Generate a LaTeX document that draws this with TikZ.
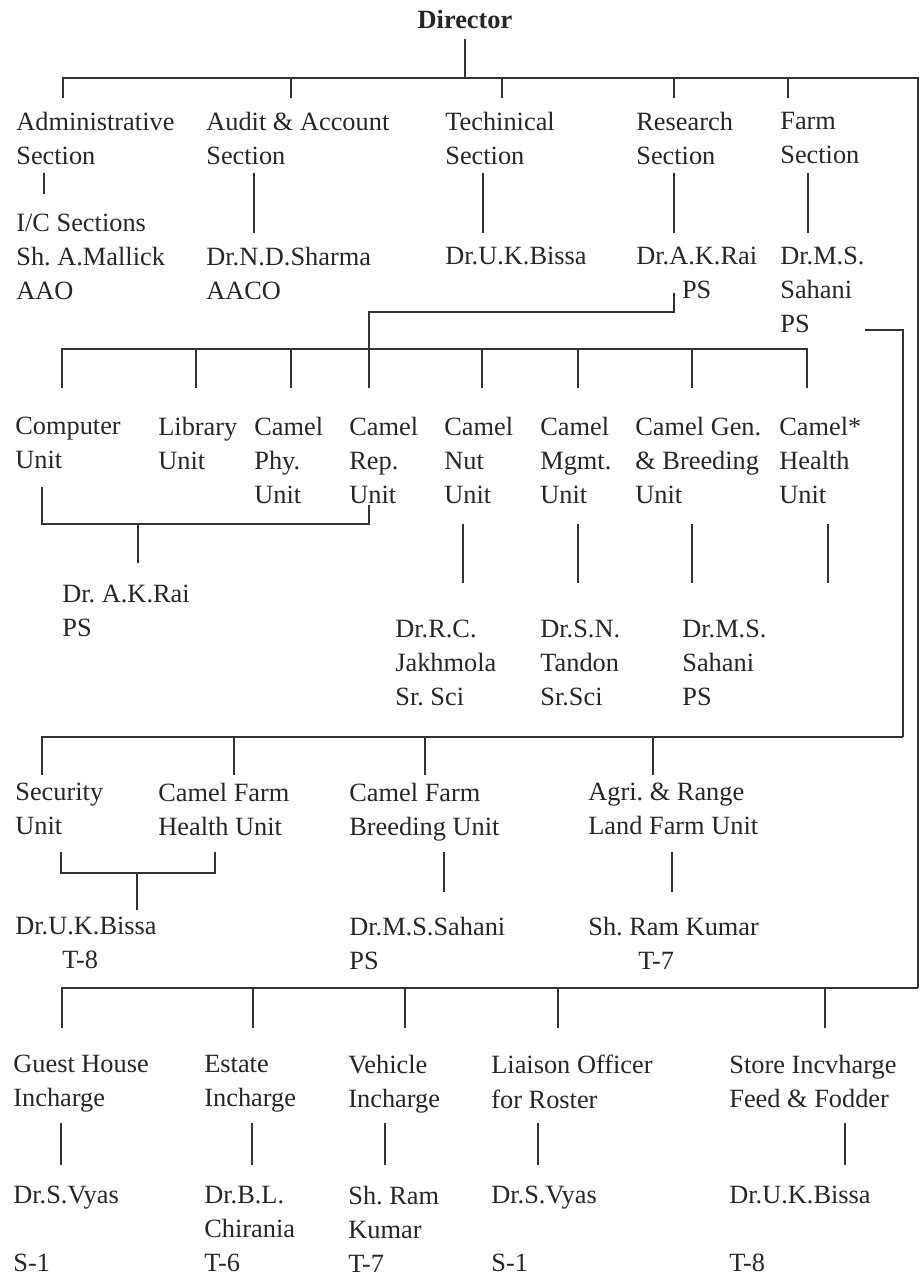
\documentclass[tikz,border=0pt]{standalone}
\usepackage{fontspec}
\setmainfont{Liberation Serif}
\frenchspacing
\usetikzlibrary{positioning, calc}
\tikzset{
	post/.style={anchor=north west, inner sep=0pt, align=left, text=black!85, font=\fontsize{15}{19.4}\selectfont},
	cpost/.style={post, align=center},
	head/.style={anchor=base, inner sep=0.2cm, text=black!85, font=\bfseries\fontsize{15}{19.4}\selectfont},
	link/.style={line width=1.1pt, draw=black!80},
}

\begin{document}
\begin{tikzpicture}[x=0.02cm, y=-0.02cm]
	\useasboundingbox (0,0) rectangle (922,1278);
	\node[head] (dir) at (465,28) {Director};
	\node[post] (adm) at (16,112) {Administrative\\Section};
	\node[post] (aud) at (206,112) {Audit \& Account\\Section};
	\node[post] (tec) at (445,112) {Techinical\\Section};
	\node[post] (res) at (636,112) {Research\\Section};
	\node[post] (frm) at (780,112) {Farm\\Section};
	\node[post] (admp) at (16,214) {I/C Sections\\Sh. A.Mallick\\AAO};
	\node[post] (audp) at (206,247) {Dr.N.D.Sharma\\AACO};
	\node[post] (tecp) at (445,247) {Dr.U.K.Bissa};
	\node[cpost] (resp) at (636,247) {Dr.A.K.Rai\\PS};
	\node[post] (frmp) at (780,247) {Dr.M.S.\\Sahani\\PS};

	\node[post] (cmp) at (15,417) {Computer\\Unit};
	\node[post] (lib) at (158,417) {Library\\Unit};
	\node[post] (phy) at (254,417) {Camel\\Phy.\\Unit};
	\node[post] (rep) at (349,417) {Camel\\Rep.\\Unit};
	\node[post] (nut) at (444,417) {Camel\\Nut\\Unit};
	\node[post] (mgt) at (540,417) {Camel\\Mgmt.\\Unit};
	\node[post] (gen) at (635,417) {Camel Gen.\\\& Breeding\\Unit};
	\node[post] (hlt) at (779,417) {Camel*\\Health\\Unit};
	\node[post] (raip) at (62,585) {Dr. A.K.Rai\\PS};
	\node[post] (nutp) at (395,620) {Dr.R.C.\\Jakhmola\\Sr. Sci};
	\node[post] (mgtp) at (540,620) {Dr.S.N.\\Tandon\\Sr.Sci};
	\node[post] (genp) at (682,620) {Dr.M.S.\\Sahani\\PS};

	\node[post] (sec) at (15,783) {Security\\Unit};
	\node[post] (cfh) at (158,783) {Camel Farm\\Health Unit};
	\node[post] (cfb) at (349,783) {Camel Farm\\Breeding Unit};
	\node[post] (agr) at (588,783) {Agri. \& Range\\Land Farm Unit};
	\node[post] (secp) at (15,917) {Dr.U.K.Bissa\\\hspace*{0.94cm}T-8};
	\node[post] (cfbp) at (349,917) {Dr.M.S.Sahani\\PS};
	\node[post] (agrp) at (588,917) {Sh. Ram Kumar\\\hspace*{1cm}T-7};

	\node[post] (gst) at (13,1055) {Guest House\\Incharge};
	\node[post] (est) at (204,1055) {Estate\\Incharge};
	\node[post] (veh) at (348,1055) {Vehicle\\Incharge};
	\node[post] (lia) at (491,1055) {Liaison Officer\\for Roster};
	\node[post] (sto) at (729,1055) {Store Incvharge\\Feed \& Fodder};
	\node[post] (gstp) at (13,1186) {Dr.S.Vyas\\\mbox{}\\S-1};
	\node[post] (estp) at (204,1186) {Dr.B.L.\\Chirania\\T-6};
	\node[post] (vehp) at (348,1186) {Sh. Ram\\Kumar\\T-7};
	\node[post] (liap) at (491,1186) {Dr.S.Vyas\\\mbox{}\\S-1};
	\node[post] (stop) at (729,1186) {Dr.U.K.Bissa\\\mbox{}\\T-8};

	\coordinate (b1) at (465,78);
	\coordinate (b2) at (369,349);
	\coordinate (b3) at (903,737);
	\coordinate (b4) at (918,988);
	\coordinate (rs) at (674,293);
	\coordinate (rk) at (369,312);
	\coordinate (fs) at (865,330);
	\draw[link] (dir) -- (b1);
	\draw[link] (b1) -| (b4);
	\draw[link] (rs) |- (rk) -- (b2);
	\draw[link] (fs) -| (b3);
	\foreach \x in {63,291,502,674,788} \draw[link] (\x,98) |- (b1);
	\foreach \x in {62,196,291,369,482,578,692,807} \draw[link] (\x,388) |- (b2);
	\foreach \x in {42,234,425,653} \draw[link] (\x,775) |- (b3);
	\foreach \x in {62,253,405,558,825} \draw[link] (\x,1028) |- (b4);

	\foreach \n/\x/\ya/\yb in {adm/44/173/194, aud/254/173/233, tec/483/173/233, res/674/173/233, frm/808/173/233,
		nut/463/524/583, mgt/578/524/583, gen/692/524/583, hlt/828/524/583,
		cfb/444/852/892, agr/672/852/892,
		gst/61/1123/1165, est/252/1123/1165, veh/385/1123/1165, lia/538/1123/1165, sto/845/1123/1165}{
		\coordinate (\n-a) at (\x,\ya);
		\coordinate (\n-b) at (\x,\yb);
		\draw[link] (\n-a) -- (\n-b);
	}

	\coordinate (cmp-a) at (42,487);
	\coordinate (rep-a) at (369,505);
	\coordinate (raip-a) at (138,524);
	\coordinate (raip-b) at (138,563);
	\draw[link] (cmp-a) |- (rep-a |- raip-a) -- (rep-a);
	\draw[link] (raip-a) -- (raip-b);
	\coordinate (sec-a) at (61,852);
	\coordinate (cfh-a) at (215,852);
	\coordinate (secp-a) at (137,873);
	\coordinate (secp-b) at (137,910);
	\draw[link] (sec-a) |- (cfh-a |- secp-a) -- (cfh-a);
	\draw[link] (secp-a) -- (secp-b);
\end{tikzpicture}
\end{document}
